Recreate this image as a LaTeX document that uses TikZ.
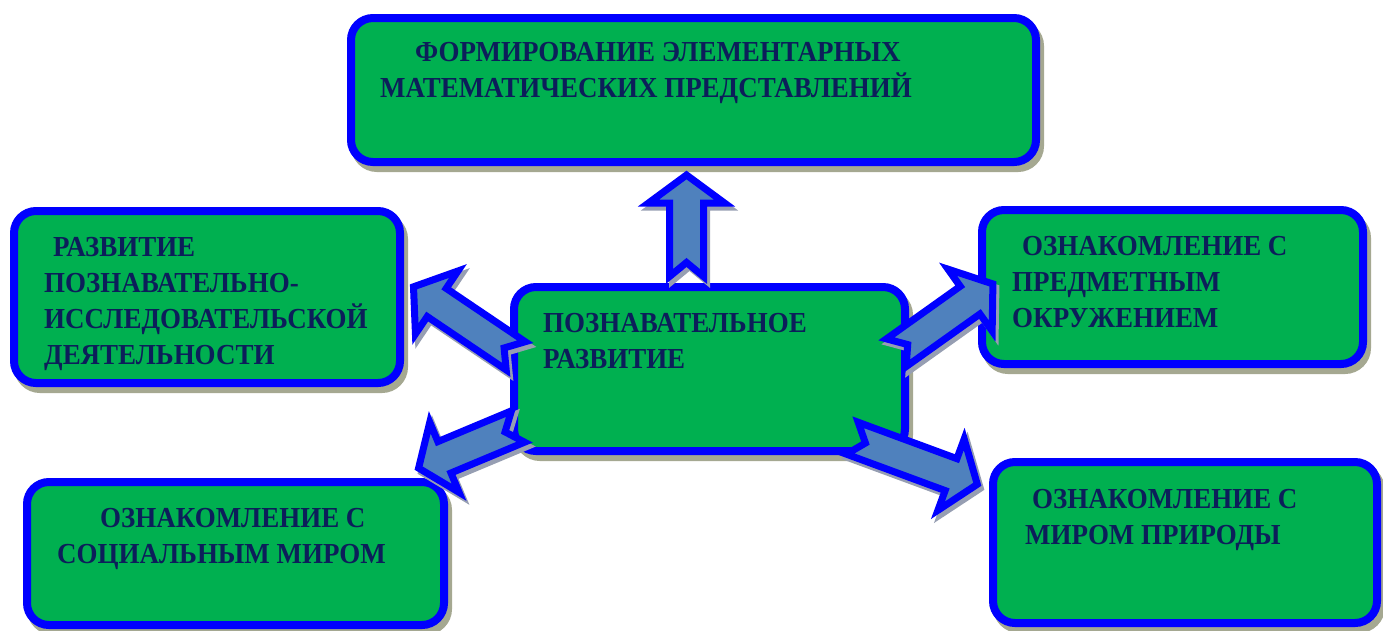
\documentclass[tikz,border=0pt]{standalone}
\usepackage{fontspec}
\setmainfont{Liberation Serif}[BoldFeatures={FakeStretch=0.93}]
\usetikzlibrary{calc}
\definecolor{boxgreen}{RGB}{0,176,80}
\definecolor{boxblue}{RGB}{0,0,255}
\definecolor{arrowfill}{RGB}{79,129,189}
\definecolor{txtnavy}{RGB}{12,30,90}
\definecolor{boxshadow}{RGB}{165,168,145}
\definecolor{arrshadow}{RGB}{150,158,178}

\tikzset{
  box/.style={draw=boxblue, fill=boxgreen, line width=8pt, rounded corners=22pt,
    rectangle, inner sep=0pt,
    preaction={draw=boxshadow, fill=boxshadow, line width=8pt,
      transform canvas={shift={(4pt,-6pt)}}}},
  blockarr/.style={draw=boxblue, fill=arrowfill, line width=7pt, line join=miter, miter limit=20},
  blockshadow/.style={draw=arrshadow, fill=arrshadow, line width=7pt, line join=miter, miter limit=20},
  txt/.style={inner sep=0pt, text=txtnavy, anchor=base west,
    font=\fontsize{29}{36}\selectfont\bfseries},
}

\newcommand{\blockarrow}[2]{%
  \coordinate (nkA) at ($(#2)!28pt!(#1)$);
  \coordinate (shT) at ($(#1)+(3,4)$);
  \coordinate (shH) at ($(#2)+(3,4)$);
  \coordinate (nkS) at ($(shH)!28pt!(shT)$);
  \draw[blockshadow] ($(shT)!17pt!90:(shH)$) -- ($(nkS)!17pt!90:(shH)$) -- ($(nkS)!38pt!90:(shH)$) -- (shH)
    -- ($(nkS)!38pt!-90:(shH)$) -- ($(nkS)!17pt!-90:(shH)$) -- ($(shT)!17pt!-90:(shH)$) -- ($(shT)!14pt!(shH)$) -- cycle;
  \draw[blockarr] ($(#1)!17pt!90:(#2)$) -- ($(nkA)!17pt!90:(#2)$) -- ($(nkA)!38pt!90:(#2)$) -- (#2)
    -- ($(nkA)!38pt!-90:(#2)$) -- ($(nkA)!17pt!-90:(#2)$) -- ($(#1)!17pt!-90:(#2)$) -- ($(#1)!14pt!(#2)$) -- cycle;
}

\begin{document}
\begin{tikzpicture}[x=1pt, y=-1pt]
\useasboundingbox (0,0) rectangle (1383,630);
\clip (0,0) rectangle (1383,630);

% boxes
\node[box, minimum width=685pt, minimum height=144pt] (math) at (693.5,90) {};
\node[box, minimum width=391pt, minimum height=164pt] (cog) at (709.5,369) {};
\node[box, minimum width=386pt, minimum height=172pt] (res) at (207,297) {};
\node[box, minimum width=381pt, minimum height=154pt] (obj) at (1172.5,287) {};
\node[box, minimum width=417pt, minimum height=143pt] (soc) at (235.5,553.5) {};
\node[box, minimum width=384pt, minimum height=161pt] (nat) at (1185,542.5) {};

% arrow end points
\coordinate (upT) at (686.5,276.5);
\coordinate (upH) at (686.5,175);
\coordinate (ulT) at (515.7,355.8);
\coordinate (ulH) at (413.5,286.8);
\coordinate (urT) at (896.3,352.7);
\coordinate (urH) at (992.9,283.9);
\coordinate (llT) at (518,426.5);
\coordinate (llH) at (418.6,468.1);
\coordinate (lrT) at (852.3,438.2);
\coordinate (lrH) at (977.3,484.3);

\blockarrow{upT}{upH}
\blockarrow{ulT}{ulH}
\blockarrow{urT}{urH}
\blockarrow{llT}{llH}
\blockarrow{lrT}{lrH}

% texts
\node[txt] (tmath) at (380,61.5) {\begin{tabular}[t]{@{}l@{}}\hspace*{35pt}ФОРМИРОВАНИЕ ЭЛЕМЕНТАРНЫХ\\МАТЕМАТИЧЕСКИХ ПРЕДСТАВЛЕНИЙ\end{tabular}};
\node[txt] (tcog) at (543,332) {\begin{tabular}[t]{@{}l@{}}ПОЗНАВАТЕЛЬНОЕ\\РАЗВИТИЕ\end{tabular}};
\node[txt] (tres) at (44,256.5) {\begin{tabular}[t]{@{}l@{}}\hspace*{9pt}РАЗВИТИЕ\\ПОЗНАВАТЕЛЬНО-\\ИССЛЕДОВАТЕЛЬСКОЙ\\ДЕЯТЕЛЬНОСТИ\end{tabular}};
\node[txt] (tobj) at (1012,255) {\begin{tabular}[t]{@{}l@{}}\hspace*{10pt}ОЗНАКОМЛЕНИЕ С\\ПРЕДМЕТНЫМ\\ОКРУЖЕНИЕМ\end{tabular}};
\node[txt] (tsoc) at (57,527) {\begin{tabular}[t]{@{}l@{}}\hspace*{43pt}ОЗНАКОМЛЕНИЕ С\\СОЦИАЛЬНЫМ МИРОМ\end{tabular}};
\node[txt] (tnat) at (1025,508) {\begin{tabular}[t]{@{}l@{}}\hspace*{7pt}ОЗНАКОМЛЕНИЕ С\\МИРОМ ПРИРОДЫ\end{tabular}};
\end{tikzpicture}
\end{document}
